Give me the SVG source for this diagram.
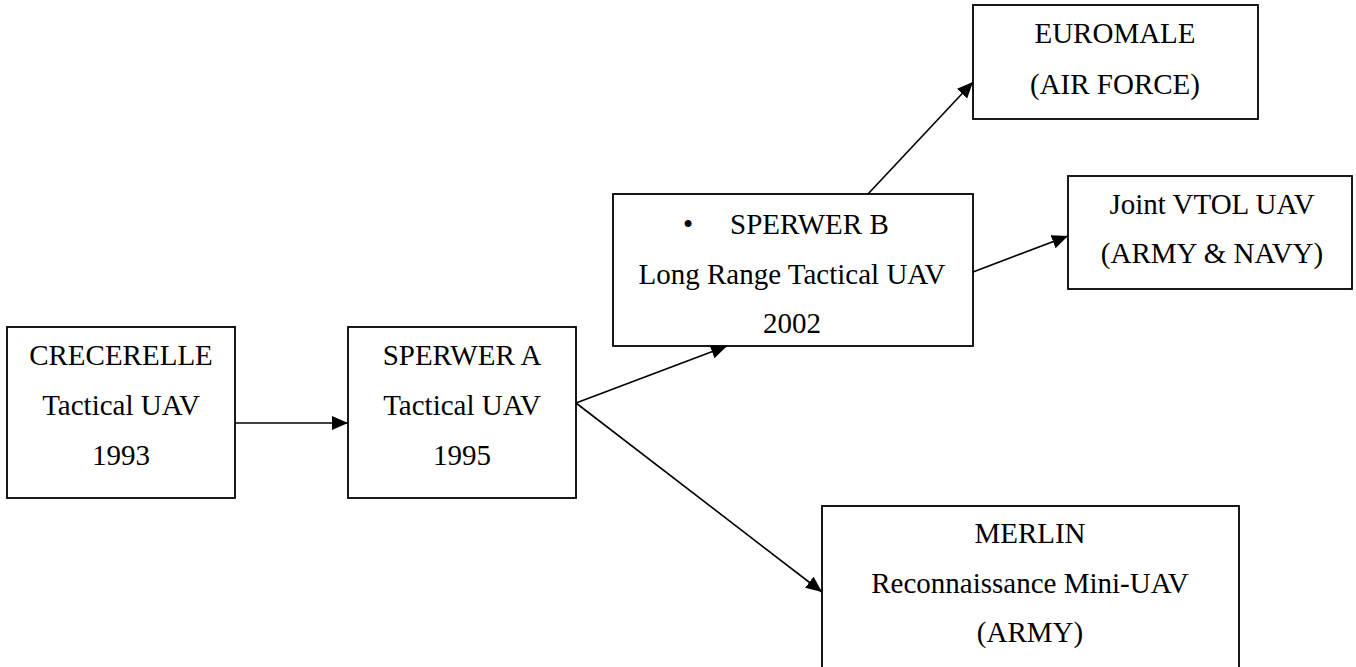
<svg xmlns="http://www.w3.org/2000/svg" width="1356" height="667" viewBox="0 0 1356 667">
<style>
.box{fill:#fff;stroke:#000;stroke-width:1.8}
.c{stroke:#000;stroke-width:1.6;fill:none;marker-end:url(#ah)}
</style>
<defs>
<marker id="ah" markerUnits="userSpaceOnUse" markerWidth="18" markerHeight="15" refX="16" refY="7" orient="auto">
<path d="M0,0 L16,7 L0,14 Z" fill="#000"/>
</marker>
</defs>
<rect width="1356" height="667" fill="#fff"/>
<g font-family="Liberation Serif, serif" font-size="29" fill="#000" text-anchor="middle">
<g id="n-crecerelle">
<rect class="box" x="7" y="327" width="228" height="171"/>
<text x="121" y="365">CRECERELLE</text>
<text x="121" y="415">Tactical UAV</text>
<text x="121" y="465">1993</text>
</g>
<g id="n-sperwer-a">
<rect class="box" x="348" y="327" width="228" height="171"/>
<text x="462" y="365">SPERWER A</text>
<text x="462" y="415">Tactical UAV</text>
<text x="462" y="465">1995</text>
</g>
<g id="n-sperwer-b">
<rect class="box" x="613" y="194" width="360" height="152"/>
<text x="683" y="234" text-anchor="start">•</text>
<text x="730" y="234" text-anchor="start">SPERWER B</text>
<text x="792" y="284">Long Range Tactical UAV</text>
<text x="792" y="333">2002</text>
</g>
<g id="n-euromale">
<rect class="box" x="973" y="5" width="285" height="114"/>
<text x="1115" y="43">EUROMALE</text>
<text x="1115" y="94">(AIR FORCE)</text>
</g>
<g id="n-joint-vtol">
<rect class="box" x="1068" y="176" width="284" height="113"/>
<text x="1212" y="214">Joint VTOL UAV</text>
<text x="1212" y="263">(ARMY &amp; NAVY)</text>
</g>
<g id="n-merlin">
<rect class="box" x="822" y="506" width="417" height="175"/>
<text x="1030" y="543">MERLIN</text>
<text x="1030" y="593">Reconnaissance Mini-UAV</text>
<text x="1030" y="642">(ARMY)</text>
</g>
</g>
<g id="connectors">
<line class="c" x1="235" y1="423" x2="348" y2="423"/>
<line class="c" x1="576" y1="403" x2="727" y2="346"/>
<line class="c" x1="576" y1="403" x2="822" y2="592"/>
<line class="c" x1="868" y1="194" x2="973" y2="82"/>
<line class="c" x1="973" y1="272" x2="1068" y2="236"/>
</g>
</svg>
